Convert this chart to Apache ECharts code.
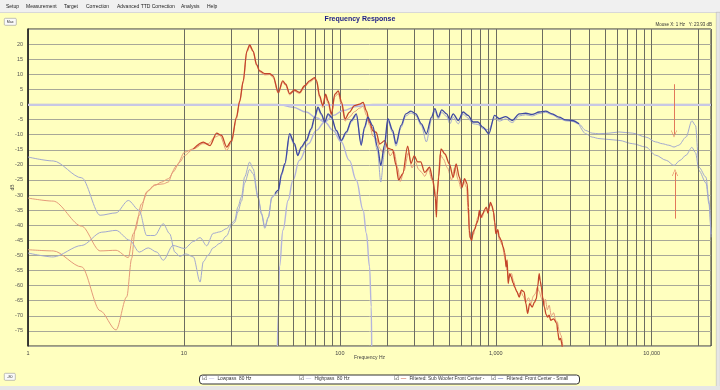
<!DOCTYPE html>
<html><head><meta charset="utf-8">
<script src="https://cdn.jsdelivr.net/npm/echarts@6/dist/echarts.min.js"></script>
<style>html,body{margin:0;padding:0;background:#ffffbf;}#c{width:720px;height:390px;}</style>
</head><body><div id="c"></div><script>
// ---- data: [frequency Hz, level dB] ----
const lowpass = [[1,0],[10,0],[30,0],[40.3,0],[50,-0.9],[60.9,-2.5],[70.6,-4.4],[80,-5.8],[90.6,-8.6],[102,-12.4],[115,-18.5],[127.5,-25.1],[141,-35.0],[148,-42.7],[155,-53.7],[159,-67],[160,-80]];
const highpass = [[39.8,-80],[40.3,-69],[41,-53.7],[43.2,-41.6],[46.6,-31.7],[50,-25.1],[55,-18.5],[62.9,-13.0],[70.6,-8.6],[80,-5.8],[90.6,-3.6],[105,-2.0],[127,-0.7],[163,0],[1000,0],[24000,0]];

const subFiltered = [[11.5,-14.7],[13.3,-12.5],[14.7,-13.6],[16.2,-9.5],[17.4,-10.2],[18.8,-14.1],[20.2,-12.0],[21.7,-4.3],[22.8,1.2],[24,7.8],[25.3,17.7],[26.4,19.7],[27.8,17.7],[29.2,13.3],[30.6,11.1],[33,10.2],[35.5,10.2],[37.3,9.5],[40.3,4.0],[43,7.8],[45,6.7],[47.6,3.6],[51.2,4.8],[55.2,4.0],[59.4,6.2],[63.9,7.8],[68.9,8.9],[71,7.8],[74.1,2.9],[77.7,-0.4],[81,3.4],[84,1.2],[88.3,-3.2],[92.8,3.4],[97.7,4.5],[102.6,0.7],[108,-4.8],[115,-2.6],[124,-0.4],[134,0.1],[141,0.7],[148,-2.1],[155,-5.9],[163,-8.7],[171,-9.2],[180,-13.1],[194,-12.0],[203,-14.5],[218,-15],[229,-20],[238,-25],[253,-23],[272,-13.8],[286,-19.5],[300,-17],[315,-19],[330,-19],[350,-22.5],[376,-20.8],[396,-25.2],[410,-31],[416,-37.3],[421,-30],[430,-24],[445,-14.7],[472,-16.4],[504,-19.7],[533,-24.1],[557,-19.7],[584,-24.1],[608,-27.4],[630,-24.6],[656,-26.3],[668,-34],[676,-41.7],[690,-44.5],[700,-45.0],[718,-42],[735,-41.2],[752,-39.5],[769,-38.4],[784,-35.1],[800,-37.5],[826,-36.2],[848,-34.8],[870,-34.0],[890,-36],[924,-32.4],[945,-33.5],[968,-35.7],[985,-39],[1000,-42.8],[1030,-41.5],[1053,-43.9],[1085,-45],[1114,-47.2],[1140,-49],[1165,-53.8],[1182,-51.5],[1200,-59.3],[1230,-56],[1255,-57.1],[1290,-59],[1322,-60.5],[1365,-62],[1413,-63.8],[1460,-61.5],[1520,-62.1],[1560,-66],[1600,-69.2],[1650,-66],[1713,-67.1],[1770,-65.5],[1820,-64.3],[1860,-60],[1897,-56.0],[1930,-58.5],[1960,-60.5],[2000,-64],[2050,-67.1],[2100,-69.5],[2150,-70.4],[2200,-69.8],[2250,-71.5],[2350,-71],[2460,-72.5],[2500,-75.5],[2547,-78.0],[2600,-77.5],[2670,-80.3]];

const subMeasured = [[1,-31.0],[1.45,-32.0],[2.21,-40.3],[2.9,-48.5],[3.67,-48.3],[4.4,-50.7],[4.73,-42.8],[5.17,-36.7],[5.77,-29.0],[6.5,-26.6],[7.37,-26.3],[7.94,-25.7],[8.5,-22.4],[9.4,-19.1],[10.1,-16.9],[11.5,-14.7],[13,-13.0],[14.3,-13.0],[15.8,-10.8],[17,-10.2],[18.8,-15.2],[20.2,-12.5],[21.7,-4.8],[22.8,0.8],[24,7.4],[25.3,17.2],[26.4,19.2],[27.8,17.4],[29.2,13.0],[30.6,10.8],[33,9.8],[35.5,9.9],[37.3,9.0],[40.3,3.6],[43,7.4],[45,6.3],[47.6,3.2],[51.2,4.4],[55.2,3.6],[59.4,5.8],[63.9,7.4],[68.9,8.5],[71,7.2],[74.1,2.4],[77.7,-1],[81,2.6],[84,0.4],[88.3,-3.6],[92.8,2.6],[97.7,3.6],[102.6,-0.4],[108,-5.5],[115,-4.2],[124,-2.4],[134,-1.2],[141,-0.6],[148,-3.5],[155,-6.8],[163,-10.5],[171,-11.2],[180,-14.5],[190,-16],[198,-13.2],[210,-17],[222,-15.5],[235,-21],[244,-25.5],[258,-22],[275,-16],[290,-21],[305,-19],[320,-21.5],[335,-22.5],[350,-23.8],[370,-21.5],[390,-25],[405,-28],[416,-33],[425,-27],[440,-16.5],[460,-18],[490,-21],[520,-25],[545,-21],[575,-25],[600,-28],[625,-25.5],[650,-27.5],[665,-36],[680,-44],[700,-42],[720,-43],[740,-40.5],[765,-37.5],[790,-36],[815,-37.5],[845,-35.5],[875,-35],[905,-34],[935,-33.2],[960,-35],[990,-40],[1020,-42],[1060,-45],[1100,-46.5],[1140,-50.5],[1180,-55],[1215,-57.5],[1260,-56],[1300,-58.5],[1350,-61.5],[1400,-63],[1450,-62],[1500,-63.5],[1560,-65.5],[1620,-64],[1680,-66],[1740,-63.5],[1800,-62.5],[1850,-60.5],[1900,-62],[1960,-64],[2020,-66.5],[2080,-64.5],[2140,-68],[2200,-66.5],[2270,-70],[2350,-69],[2420,-71.5],[2480,-72],[2550,-75],[2620,-76.5],[2700,-80.5]];
const subLowEnd = [[1,-48.1],[1.45,-48.5],[2.21,-53.8],[2.9,-68.3],[3.67,-74.7],[4.3,-63.7],[4.62,-51.0],[4.86,-41.7],[5.35,-32.9],[5.9,-28.5],[6.5,-26.8],[7.2,-25.7],[7.94,-24.6],[9.0,-20.2],[10.1,-15.8],[11.5,-14.7],[13.3,-12.5]];

const centerFiltered = [[38.4,-29.5],[40.3,-28.4],[42.3,-22.9],[44.4,-19.6],[47.6,-9.7],[51.2,-13.0],[53.7,-16.9],[56.5,-14.1],[60.9,-11.9],[65.5,-8.0],[68.9,-4.2],[72.4,-0.9],[76.1,-3.1],[80,-5.8],[84,-3.1],[88.3,-4.2],[95,-8.6],[102,-11.9],[110,-9.1],[118.6,-5.3],[127.5,-3.1],[137,-13.5],[144,-7.5],[151,-4.2],[162,-6.9],[174.5,-14.1],[183,-20.2],[193,-13.5],[203,-4.7],[218,-8.6],[229,-13.0],[247,-6.9],[265,-3.1],[286,-2.2],[307,-3.1],[333,-6.4],[359,-9.7],[387,-4.2],[407,-1.4],[428,-4.2],[450,-1.8],[484,-3.1],[508,-5.1],[533,-3.1],[575,-5.3],[618,-2.5],[664,-3.6],[714,-5.8],[768,-5.8],[826,-7.5],[902,-9.7],[982,-3.6],[1053,-4.7],[1159,-4.0],[1276,-5.3],[1413,-3.1],[1556,-2.9],[1713,-3.3],[1897,-2.5],[2090,-2.2],[2300,-3.1],[2547,-4.2],[2800,-5.1],[3090,-5.3],[3419,-6.4]];

const centerMeasured = [[1,-17.4],[1.45,-18.7],[2.21,-24.3],[2.9,-36.7],[3.67,-35.9],[4.4,-31.8],[5.17,-35.1],[5.77,-43.4],[6.5,-43.4],[7.37,-39.5],[8.1,-42.8],[8.75,-48.9],[9.4,-50.3],[10.3,-49.5],[11.5,-50.5],[12.7,-58.8],[13.3,-52.1],[14.3,-49.9],[15.4,-47.5],[17,-46],[18.8,-43.5],[20.2,-40],[21.2,-39],[22.2,-35.5],[23.4,-32],[24.5,-26],[26.4,-21.5],[27.8,-23],[29.9,-31],[31.5,-36.5],[33,-41],[34.8,-37.5],[36.6,-31],[38.4,-30],[40.3,-29],[42.3,-23.5],[44.4,-20],[47.6,-10.5],[51.2,-13.5],[53.7,-16.8],[56.5,-14.6],[60.9,-12.4],[65.5,-8.6],[68.9,-4.8],[72.4,-1.5],[76.1,-3.6],[80,-6.2],[84,-3.6],[88.3,-4.6],[95,-8.9],[102,-12.3],[110,-9.6],[118.6,-5.8],[127.5,-3.6],[137,-12.8],[144,-8],[151,-5],[162,-7.6],[174.5,-15.5],[183,-25.7],[193,-16],[203,-5.5],[218,-9.3],[229,-13.8],[247,-7.6],[265,-3.8],[286,-2.8],[307,-3.7],[333,-7],[359,-12.4],[387,-5],[407,-2.2],[428,-4.8],[450,-2.6],[484,-4],[508,-6.4],[533,-4.2],[575,-6.4],[618,-3.2],[664,-4.5],[714,-6.4],[768,-6.6],[826,-8],[902,-8.4],[982,-4.5],[1053,-5.5],[1159,-4.8],[1276,-6],[1413,-3.8],[1556,-3.4],[1713,-3.8],[1897,-3],[2090,-2.6],[2300,-3.4],[2547,-4.6],[2800,-5.4],[3090,-5.6],[3419,-6.5],[3770,-8.6],[4150,-9.5],[4590,-9.7],[5318,-9.5],[6162,-9.1],[7560,-9.5],[9170,-10.8],[10600,-12.4],[11700,-13.0],[12870,-13.5],[13900,-14.1],[14900,-13.5],[16600,-10.8],[18100,-5.4],[19100,-7],[20100,-20.8],[22300,-24.1],[23300,-32],[24000,-43]];
const centerLowEnd = [[1,-49.2],[1.45,-50.5],[2.21,-46.7],[2.97,-42.3],[3.67,-41.7],[4.5,-45.0],[5.17,-48.9],[5.9,-47.5],[6.7,-48.9],[7.37,-51.6],[8.5,-46.7],[10.1,-47.7],[11.5,-45.4],[12.7,-44.1],[14,-46.8],[15.4,-42.7],[17,-42.2],[18.8,-41.1],[20.2,-39.4],[21.2,-38.3],[22.2,-33.9],[23.4,-30.6],[24.5,-24.0],[26.4,-19.1],[27.8,-21.3],[29.9,-30.6],[31.5,-36.1],[33,-40.5],[34.8,-37.2],[36.6,-30.6],[38.4,-29.5]];
const centerHighEnd = [[3419,-6.6],[3770,-9.7],[4150,-10.8],[4590,-11.3],[5318,-11.6],[6162,-11.9],[7560,-13.0],[9170,-14.1],[10600,-16.8],[12400,-18.5],[13900,-20.2],[15200,-18.5],[16600,-16.8],[18100,-14.2],[19100,-16],[20100,-21.9],[22300,-26],[23300,-33],[24000,-44]];

const minorFreqLines = [20,30,40,50,60,70,80,90,200,300,400,500,600,700,800,900,2000,3000,4000,5000,6000,7000,8000,9000,20000];
const arrowMarks = [[[13900,6.7],[13900,-9.8]],[[14100,-37.8],[14100,-22.5]]];
const legendNames = ['Lowpass  80 Hz','Highpass  80 Hz','Filtered: Sub Woofer Front Center - Sub','Filtered: Front Center - Small'];
const menuItems = [['Setup',6],['Measurement',26],['Target',64],['Correction',86],['Advanced TTD Correction',117],['Analysis',181],['Help',207]];

// ---- chart ----
const FONT = 'Liberation Sans, Arial, sans-serif';
const C = {lp:'#b4b4dc', dr:'#c4452a', lo:'#e49a7a', db:'#3e48a2', lb:'#a2a8d0', arrow:'#e2785a', vgrid:'#6c6c60', hgrid:'#a8a898'};
const chevron = 'path://M0,0 L5,9 L4,9 L0,1.8 L-4,9 L-5,9 Z';

function line(name, data, color, width, z, smooth) {
  return {name, type:'line', data, showSymbol:false, symbol:'none', smooth: smooth, smoothMonotone:'x',
    lineStyle:{color, width}, itemStyle:{color}, z, silent:true, animation:false};
}
const legendColors = [C.lp, C.lp, C.dr, C.db];
const legendLeft = [196, 293, 388, 485];
const rich = {cb:{fontSize:6, color:'#333', fontFamily:'DejaVu Sans'},
  t:{fontSize:4.8, color:'#333', fontFamily:FONT}};
legendColors.forEach((c,i)=>{ rich['l'+i] = {fontSize:6, color:c, fontFamily:'DejaVu Sans', padding:[0,3,0,1]}; });
const legends = legendNames.map((n,i)=>({data:[n], left:legendLeft[i], top:375.5, itemWidth:0, itemHeight:0,
  padding:0, selectedMode:false, z:6,
  textStyle:{rich, fontSize:4.8, color:'#333', width:(i===2?96:150), overflow:'truncate', ellipsis:''},
  formatter:function(name){ return '{cb|\u2611}{l'+i+'|\u2014}{t|'+name+'}'; }}));

const chart = echarts.init(document.getElementById('c'), null, {renderer:'canvas'});
chart.setOption({
  animation:false,
  backgroundColor:'#ffffbf',
  textStyle:{fontFamily:FONT},
  title:{text:'Frequency Response', left:'center', top:16, padding:0,
    textStyle:{fontSize:7, fontWeight:'bold', color:'#1c1c86', fontFamily:FONT}},
  grid:{left:28, right:9, top:29, bottom:44, containLabel:false, outerBoundsMode:'none', show:true, backgroundColor:'#ffffbf', borderColor:'#333', borderWidth:1},
  xAxis:{type:'log', logBase:10, min:1, max:24000,
    axisLine:{show:true, lineStyle:{color:'#222', width:1.5}}, axisTick:{show:false},
    axisLabel:{fontSize:5.5, color:'#444', margin:4, formatter:function(v){
      const l = Math.log10(v); if (Math.abs(l-Math.round(l))>1e-6) return '';
      return Math.round(v).toLocaleString('en-US'); }},
    splitLine:{show:true, lineStyle:{color:C.vgrid, width:1}}, minorSplitLine:{show:false}},
  yAxis:{type:'value', min:-80, max:25, interval:5,
    axisLine:{show:true, lineStyle:{color:'#222', width:1.5}}, axisTick:{show:false},
    axisLabel:{fontSize:5.5, color:'#555', margin:5, showMinLabel:false, showMaxLabel:false},
    splitLine:{show:true, lineStyle:{color:C.hgrid, width:1}}},
  legend: legends,
  graphic:[
    {type:'rect', left:0, top:0, shape:{width:720, height:12}, style:{fill:'#f0f0f0'}, silent:true},
    {type:'rect', left:0, top:12, shape:{width:720, height:1}, style:{fill:'#d8d8d8'}, silent:true},
    {type:'rect', left:716, top:12, shape:{width:4, height:378}, style:{fill:'#e6e6e6', stroke:'#b0b0b0', lineWidth:0.5}, silent:true},
    {type:'rect', left:0, top:386, shape:{width:720, height:4}, style:{fill:'#e6e6e6'}, silent:true},
    {type:'rect', left:199, top:374.5, z:1, shape:{width:380, height:9, r:3}, style:{fill:'#ffffff', stroke:'#333', lineWidth:1}, silent:true},
    ...menuItems.map(m=>({type:'text', left:m[1], top:4, style:{text:m[0], fontSize:5, fill:'#222', fontFamily:FONT}, silent:true})),
    {type:'text', x:369.5, y:358, style:{text:'Frequency Hz', fontSize:5, fill:'#444', fontFamily:FONT, align:'center', verticalAlign:'middle'}, silent:true},
    {type:'text', x:13, y:187.5, rotation:Math.PI/2, style:{text:'dB', fontSize:5, fill:'#444', fontFamily:FONT, align:'center', verticalAlign:'middle'}, silent:true},
    {type:'group', left:4, top:18, children:[
      {type:'rect', shape:{width:12, height:7, r:1}, style:{fill:'#fafafa', stroke:'#999', lineWidth:0.6}},
      {type:'text', left:2.5, top:1.8, style:{text:'Max', fontSize:3.6, fill:'#333', fontFamily:FONT}}]},
    {type:'group', left:4, top:373, children:[
      {type:'rect', shape:{width:11, height:7, r:1}, style:{fill:'#fafafa', stroke:'#999', lineWidth:0.6}},
      {type:'text', left:3, top:1.8, style:{text:'-80', fontSize:3.6, fill:'#333', fontFamily:FONT}}]},
    {type:'text', right:8, top:22, style:{text:'Mouse X: 1 Hz   Y: 23.93 dB', fontSize:4.5, fill:'#333', fontFamily:FONT}, silent:true}
  ],
  series:[
    {name:'grid-lines', type:'line', data:[], silent:true, z:1,
      markLine:{silent:true, symbol:'none', animation:false, label:{show:false},
        lineStyle:{color:C.vgrid, width:1, type:'solid'},
        data:[...minorFreqLines.map(v=>({xAxis:v})),
              {yAxis:0, lineStyle:{color:'#c8c8e4', width:2}}]}},
    line(legendNames[0], lowpass, C.lp, 1.4, 3, 0.4),
    line(legendNames[1], highpass, C.lp, 1.4, 3, 0.4),
    line('Sub Woofer Front Center - Sub', subMeasured, C.lo, 1, 4, 0.3),
    line('Sub Woofer Front Center - Sub (LF)', subLowEnd, C.lo, 1, 4, 0.3),
    line('Front Center - Small', centerMeasured, C.lb, 1, 4, 0.3),
    line('Front Center - Small (LF)', centerLowEnd, C.lb, 1, 4, 0.3),
    line('Front Center - Small (HF)', centerHighEnd, C.lb, 1, 4, 0.3),
    line(legendNames[2], subFiltered, C.dr, 1.3, 5, 0.3),
    line(legendNames[3], centerFiltered, C.db, 1.3, 5, 0.3),
    {name:'annotations', type:'line', data:[], silent:true, z:6,
      markLine:{silent:true, animation:false, symbol:['none', chevron], symbolSize:[6,7], label:{show:false},
        lineStyle:{color:C.arrow, width:1, type:'solid'},
        data:arrowMarks.map(a=>[{coord:a[0]},{coord:a[1]}])}}
  ]
});
</script></body></html>
